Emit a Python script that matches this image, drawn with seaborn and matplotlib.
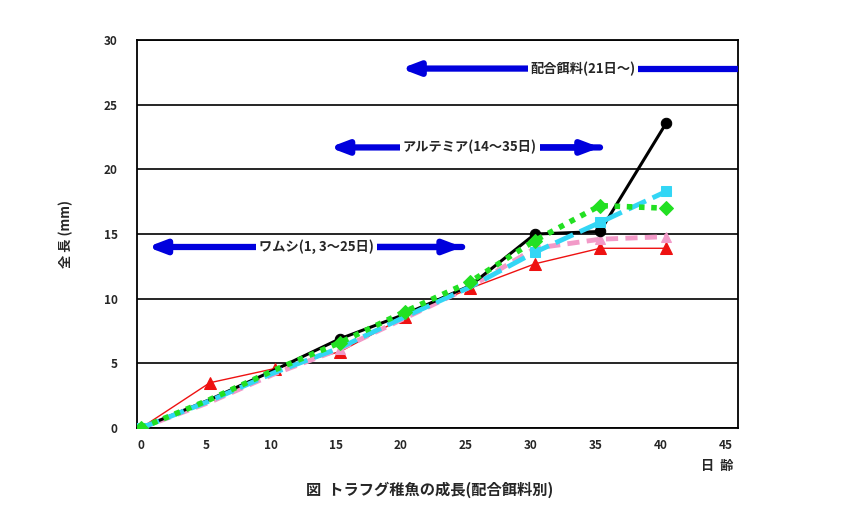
import matplotlib
matplotlib.use("Agg")
import matplotlib.pyplot as plt
import numpy as np
import pandas as pd
import seaborn as sns

# days after hatching (points sit a little right of the ticks in the original)
days = [0, 5.3, 10.3, 15.3, 20.3, 25.3, 30.3, 35.3, 40.4]

black_vals = [0.0, 2.2, 4.5, 6.9, 8.8, 11.0, 15.0, 15.2, 23.6]
cyan_vals = [0.0, 2.1, 4.3, 6.2, 8.6, 10.9, 13.6, 15.9, 18.3]
green_vals = [0.0, 2.2, 4.5, 6.6, 9.0, 11.3, 14.5, 17.2, 17.0]
pink_vals = [0.0, 2.0, 4.2, 6.1, 8.5, 10.9, 13.9, 14.6, 14.8]
red_vals = [0.0, 3.5, 4.6, 5.9, 8.6, 10.8, 12.7, 13.9, 13.9]

# feeding periods: (start, end, y, label, text x)
feeds = [
    (0.5, 24.7, 14.0, "ワムシ(1, 3～25日)", 13.5),
    (14.5, 35.3, 21.7, "アルテミア(14～35日)", 25.3),
    (20.0, 46.0, 27.8, "配合餌料(21日～)", 34.0),
]

sns.set_style("white")
plt.rcParams['font.family'] = ['Noto Sans CJK JP', 'DejaVu Sans']

fig = plt.figure(figsize=(8.59, 5.21), dpi=100)
ax = fig.add_axes([0.1595, 0.1785, 0.6995, 0.7445])

df = pd.DataFrame({"day": days, "black": black_vals, "cyan": cyan_vals,
                   "green": green_vals, "pink": pink_vals, "red": red_vals})

sns.lineplot(data=df, x="day", y="red", ax=ax, color="#ee1111", lw=1.0,
             marker="^", markersize=8, markeredgecolor="#ee1111", zorder=3)
sns.lineplot(data=df, x="day", y="pink", ax=ax, color="#f29ac8", lw=3.5,
             linestyle=(0, (2.5, 1.5)), marker="^", markersize=7,
             markeredgecolor="#f29ac8", markevery=[0, 3, 6, 7, 8], zorder=4)
sns.lineplot(data=df, x="day", y="cyan", ax=ax, color="#33d6f5", lw=3.5,
             linestyle=(0, (4, 1.5)), marker="s", markersize=7,
             markeredgecolor="#33d6f5", markevery=[0, 6, 7, 8], zorder=5)
sns.lineplot(data=df, x="day", y="black", ax=ax, color="black", lw=2.2,
             marker="o", markersize=7.5, markeredgecolor="black",
             markevery=[0, 3, 6, 7, 8], zorder=4.5)
sns.lineplot(data=df, x="day", y="green", ax=ax, color="#22e022", lw=4,
             linestyle=(0, (1, 1.2)), marker="D", markersize=7,
             markeredgecolor="#22e022", markevery=[0, 3, 4, 5, 6, 7, 8], zorder=6)

for start, end, y, label, tx in feeds:
    right_head = end < 45
    ax.annotate("", xy=(start, y), xytext=(end if right_head else tx, y),
                arrowprops=dict(arrowstyle="-|>,head_length=1.0,head_width=0.38",
                                color="#0000dd", lw=4.5, shrinkA=0, shrinkB=0),
                annotation_clip=False, zorder=7)
    if right_head:
        ax.annotate("", xy=(end, y), xytext=(tx, y),
                    arrowprops=dict(arrowstyle="-|>,head_length=1.0,head_width=0.38",
                                    color="#0000dd", lw=4.5, shrinkA=0, shrinkB=0),
                    zorder=7)
    else:
        ax.plot([tx, end], [y, y], color="#0000dd", lw=4.5, clip_on=True, zorder=7)
    ax.text(tx, y, label, ha="center", va="center", fontsize=9.5, fontweight="bold",
            bbox=dict(facecolor="white", edgecolor="none", pad=2), zorder=8)

ax.set_xlim(-0.3, 45.9)
ax.set_ylim(0, 30)
ax.set_xticks(range(0, 50, 5))
ax.set_yticks(range(0, 35, 5))
ax.yaxis.grid(True, color="black", lw=1.2)
ax.set_axisbelow(True)
ax.tick_params(axis="x", direction="in", length=4, width=1, labelsize=8.5, pad=8)
ax.tick_params(axis="y", length=0, labelsize=8.5, pad=14)
for lab in ax.get_xticklabels() + ax.get_yticklabels():
    lab.set_fontweight("bold")
for sp in ax.spines.values():
    sp.set_color("black")
    sp.set_linewidth(1.3)

ax.set_xlabel("")
ax.set_ylabel("全 長 (mm)", fontsize=9.5, fontweight="bold", labelpad=22)
fig.text(0.835, 0.105, "日  齢", ha="center", va="center", fontsize=9.5, fontweight="bold")
fig.text(0.5, 0.06, "図  トラフグ稚魚の成長(配合餌料別)", ha="center", va="center",
         fontsize=11, fontweight="bold")

fig.savefig("out.png", dpi=100)
